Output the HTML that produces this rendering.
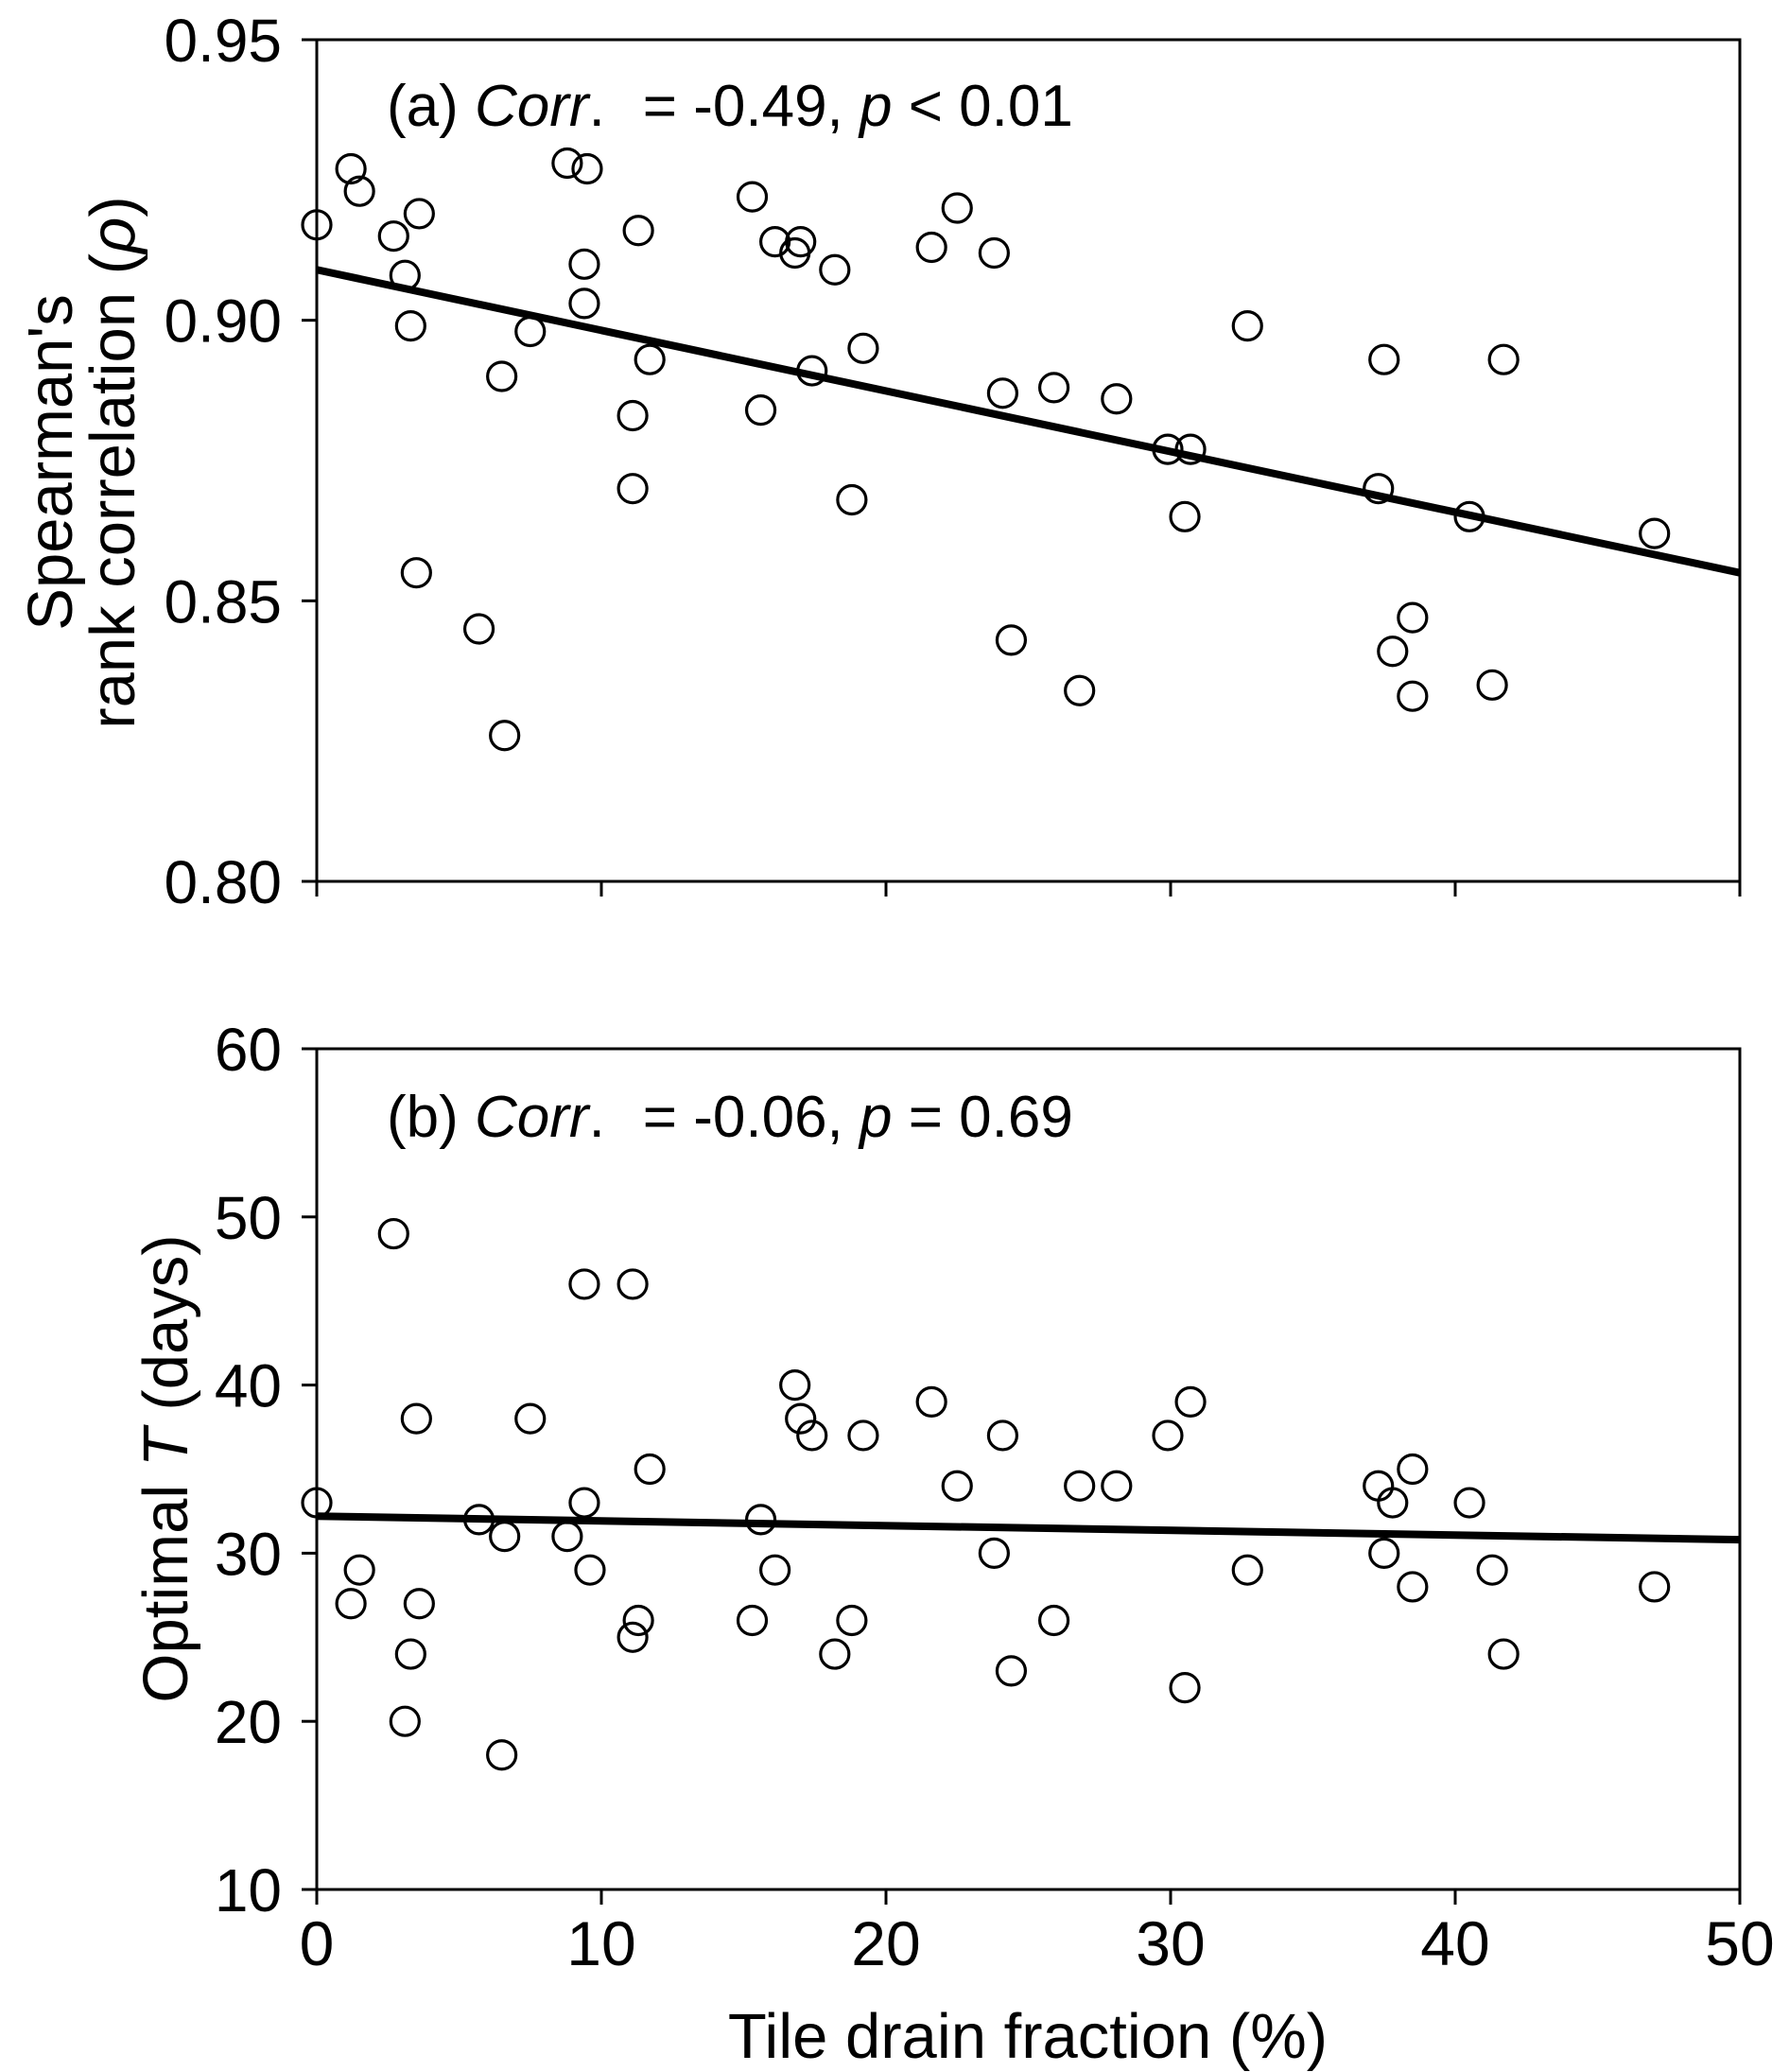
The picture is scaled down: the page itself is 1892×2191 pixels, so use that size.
<!DOCTYPE html>
<html><head><meta charset="utf-8">
<style>
html,body{margin:0;padding:0;background:#fff;}
svg{display:block;font-family:"Liberation Sans",Arial,sans-serif;}
</style></head>
<body>
<svg id="chart" width="1892" height="2191" viewBox="0 0 1892 2191" xmlns="http://www.w3.org/2000/svg">
<g id="panelA"></g>
<g id="panelB"></g>
<text x="409" y="133" font-size="62">(a) <tspan font-style="italic">Corr</tspan>.<tspan dx="40">= -0.49, </tspan><tspan font-style="italic">p</tspan> &lt; 0.01</text>
<text x="409" y="1202" font-size="62">(b) <tspan font-style="italic">Corr</tspan>.<tspan dx="40">= -0.06, </tspan><tspan font-style="italic">p</tspan> = 0.69</text>
<text transform="translate(76,489) rotate(-90)" text-anchor="middle" font-size="67">Spearman's</text>
<text transform="translate(142,489) rotate(-90)" text-anchor="middle" font-size="67">rank correlation (<tspan font-style="italic">ρ</tspan>)</text>
<text transform="translate(198,1553) rotate(-90)" text-anchor="middle" font-size="67">Optimal <tspan font-style="italic">T</tspan> (days)</text>
<text x="1087" y="2176" text-anchor="middle" font-size="67">Tile drain fraction (%)</text>
</svg>
<script>
const xs = [0,1.2,1.5,2.7,3.1,3.3,3.6,3.5,5.7,6.5,6.6,7.5,8.8,9.5,9.4,9.4,11.1,11.1,11.3,11.7,15.3,15.6,16.1,16.8,17.0,17.4,18.2,18.8,19.2,21.6,22.5,23.8,24.1,24.4,25.9,26.8,28.1,29.9,30.5,30.7,32.7,37.3,37.5,37.8,38.5,38.5,40.5,41.3,41.7,47.0];
const rhoValues = [0.917,0.927,0.923,0.915,0.908,0.899,0.919,0.855,0.845,0.890,0.826,0.898,0.928,0.927,0.910,0.903,0.870,0.883,0.916,0.893,0.922,0.884,0.914,0.912,0.914,0.891,0.909,0.868,0.895,0.913,0.920,0.912,0.887,0.843,0.888,0.834,0.886,0.877,0.865,0.877,0.899,0.870,0.893,0.841,0.847,0.833,0.865,0.835,0.893,0.862];
const xsB = [0,1.2,1.5,2.7,3.1,3.3,3.5,3.6,5.7,6.5,6.6,7.5,8.8,9.4,9.4,9.6,11.1,11.1,11.3,11.7,15.3,15.6,16.1,16.8,17.0,17.4,18.2,18.8,19.2,21.6,22.5,23.8,24.1,24.4,25.9,26.8,28.1,29.9,30.5,30.7,32.7,37.3,37.5,37.8,38.5,38.5,40.5,41.3,41.7,47.0];
const tValues = [33,27,29,49,20,24,38,27,32,18,31,38,31,46,33,29,46,25,26,35,26,32,29,40,38,37,24,26,37,39,34,30,37,23,26,34,34,37,22,39,29,34,30,33,35,28,33,29,24,28];
const fitA = [0.909,0.855];
const fitB = [32.2,30.8];
const fitX = [0,50];
const xTicks = [0,10,20,30,40,50];
const yTicksA = [0.80,0.85,0.90,0.95];
const yTickLabelsA = ["0.80","0.85","0.90","0.95"];
const yTicksB = [10,20,30,40,50,60];
const yTickLabelsB = ["10","20","30","40","50","60"];

const NS="http://www.w3.org/2000/svg";
const L=335,R=1840;
function mk(tag,attrs,parent){const e=document.createElementNS(NS,tag);for(const k in attrs)e.setAttribute(k,attrs[k]);parent.appendChild(e);return e;}
const sx=v=>L+(v-0)/(50-0)*(R-L);

function panel(g,top,bot,ymin,ymax,px,py,fit,ticks,labels,showX,key){
  const sy=v=>bot-(v-ymin)/(ymax-ymin)*(bot-top);
  const frame=mk('rect',{x:L,y:top,width:R-L,height:bot-top,fill:'none',stroke:'#000','stroke-width':3},g);
  
  
  ticks.forEach((t,i)=>{
    const tk=mk('line',{x1:L-16,x2:L,y1:sy(t),y2:sy(t),stroke:'#000','stroke-width':3},g);
    
    
    const tx=mk('text',{x:298,y:sy(t)+23,'text-anchor':'end','font-size':64},g);
    
    
    tx.textContent=labels[i];
  });
  xTicks.forEach(t=>{
    const tk=mk('line',{x1:sx(t),x2:sx(t),y1:bot,y2:bot+16,stroke:'#000','stroke-width':3},g);
    
    
    if(showX){
      const tx=mk('text',{x:sx(t),y:2078,'text-anchor':'middle','font-size':66},g);
      
      
      tx.textContent=String(t);
    }
  });
  const ln=mk('line',{x1:sx(fitX[0]),y1:sy(fit[0]),x2:sx(fitX[1]),y2:sy(fit[1]),stroke:'#000','stroke-width':8},g);
  
  
  px.forEach((x,i)=>{
    const c=mk('circle',{cx:sx(x),cy:sy(py[i]),r:15,fill:'none',stroke:'#000','stroke-width':3.2},g);
    
    
  });
}
panel(document.getElementById('panelA'),42,932,0.80,0.95,xs,rhoValues,fitA,yTicksA,yTickLabelsA,false,'a');
panel(document.getElementById('panelB'),1109,1998,10,60,xsB,tValues,fitB,yTicksB,yTickLabelsB,true,'b');
</script>
</body></html>
